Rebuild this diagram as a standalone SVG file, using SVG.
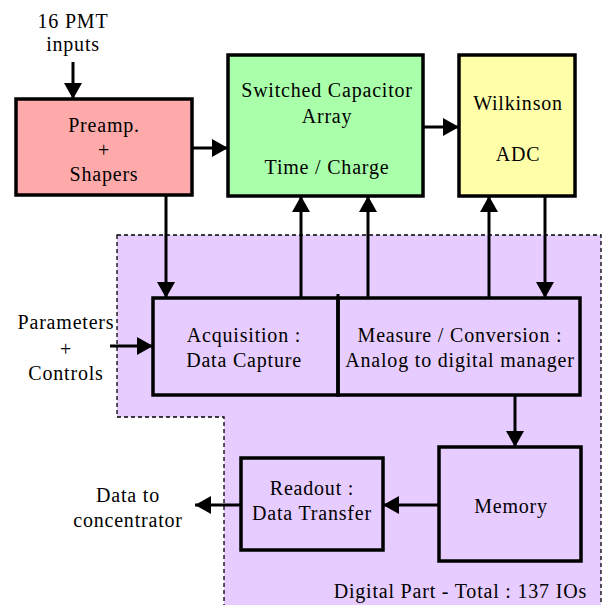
<svg xmlns="http://www.w3.org/2000/svg" width="603" height="605" viewBox="0 0 603 605" font-family="Liberation Serif, serif">
<style>
text{font-family:'Liberation Serif',serif;font-size:20px;letter-spacing:0.8px;fill:#000;text-anchor:middle}
.box{stroke:#000;stroke-width:3.5}
.line{stroke:#000;stroke-width:3;fill:none}
</style>
<defs>
<marker id="ah" markerUnits="userSpaceOnUse" markerWidth="16" markerHeight="18" refX="16" refY="9" orient="auto"><path d="M0,0 L16,9 L0,18 Z" fill="#000"/></marker>
</defs>
<g id="digital-region">
<path d="M117,235 L601,235 L601,607 L224,607 L224,417 L117,417 Z" fill="#e6ccff" stroke="#000" stroke-width="1.3" stroke-dasharray="4,3"/>
<text x="587" y="598" style="text-anchor:end">Digital Part - Total : 137 IOs</text>
</g>
<g id="input-label">
<text x="73" y="28">16 PMT</text>
<text x="73" y="51">inputs</text>
</g>
<g id="preamp">
<rect class="box" x="16" y="99" width="176" height="96" fill="#ffaaaa"/>
<text x="104" y="132">Preamp.</text>
<text x="104" y="157">+</text>
<text x="104" y="181">Shapers</text>
</g>
<g id="sca">
<rect class="box" x="228" y="55" width="195" height="141" fill="#aaffaa"/>
<text x="327" y="97">Switched Capacitor</text>
<text x="327" y="123">Array</text>
<text x="327" y="174">Time / Charge</text>
</g>
<g id="wilkinson">
<rect class="box" x="459" y="55" width="116" height="141" fill="#ffffaa"/>
<text x="518" y="110">Wilkinson</text>
<text x="518" y="161">ADC</text>
</g>
<g id="params-label">
<text x="66" y="329">Parameters</text>
<text x="66" y="356">+</text>
<text x="66" y="380">Controls</text>
</g>
<g id="acquisition">
<rect class="box" x="153" y="298" width="185" height="97" fill="none"/>
<text x="244" y="342">Acquisition :</text>
<text x="244" y="367">Data Capture</text>
</g>
<g id="measure">
<rect class="box" x="338" y="298" width="242" height="97" fill="none"/>
<line class="line" x1="338" y1="294" x2="338" y2="298"/>
<text x="460" y="342">Measure / Conversion :</text>
<text x="460" y="367">Analog to digital manager</text>
</g>
<g id="memory">
<rect class="box" x="439" y="447" width="142" height="114" fill="none"/>
<text x="511" y="513">Memory</text>
</g>
<g id="readout">
<rect class="box" x="241" y="458" width="142" height="92" fill="none"/>
<text x="312" y="495">Readout :</text>
<text x="312" y="520">Data Transfer</text>
</g>
<g id="output-label">
<text x="128" y="502">Data to</text>
<text x="128" y="527">concentrator</text>
</g>
<g id="connectors">
<line class="line" x1="73" y1="62" x2="73" y2="99" marker-end="url(#ah)"/>
<line class="line" x1="192" y1="148" x2="228" y2="148" marker-end="url(#ah)"/>
<line class="line" x1="423" y1="127" x2="459" y2="127" marker-end="url(#ah)"/>
<line class="line" x1="166" y1="195" x2="166" y2="298" marker-end="url(#ah)"/>
<line class="line" x1="301" y1="298" x2="301" y2="196" marker-end="url(#ah)"/>
<line class="line" x1="368" y1="298" x2="368" y2="196" marker-end="url(#ah)"/>
<line class="line" x1="489" y1="298" x2="489" y2="196" marker-end="url(#ah)"/>
<line class="line" x1="545" y1="196" x2="545" y2="298" marker-end="url(#ah)"/>
<line class="line" x1="110" y1="346" x2="153" y2="346" marker-end="url(#ah)"/>
<line class="line" x1="515" y1="395" x2="515" y2="447" marker-end="url(#ah)"/>
<line class="line" x1="439" y1="505" x2="383" y2="505" marker-end="url(#ah)"/>
<line class="line" x1="241" y1="505" x2="195" y2="505" marker-end="url(#ah)"/>
</g>
</svg>
